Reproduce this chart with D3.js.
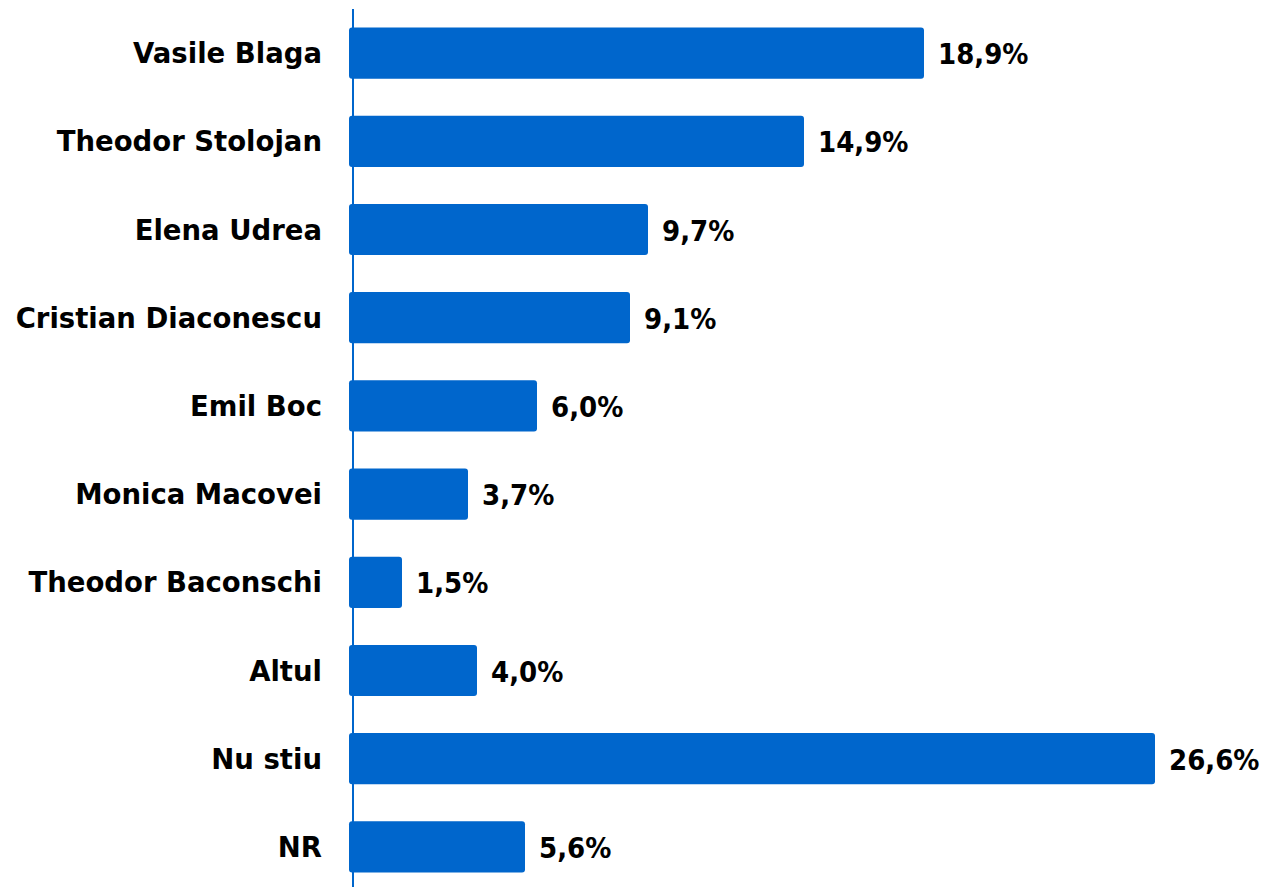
<!DOCTYPE html>
<html><head><meta charset="utf-8">
<script src="https://cdn.jsdelivr.net/npm/d3@7"></script>
<style>html,body{margin:0;padding:0;background:#fff;}</style>
</head><body>
<svg id="c" width="1262" height="887"></svg>
<script>
const categories = ["Vasile Blaga","Theodor Stolojan","Elena Udrea","Cristian Diaconescu","Emil Boc","Monica Macovei","Theodor Baconschi","Altul","Nu stiu","NR"];
const values = [18.9,14.9,9.7,9.1,6.0,3.7,1.5,4.0,26.6,5.6];
const valueLabels = ["18,9%","14,9%","9,7%","9,1%","6,0%","3,7%","1,5%","4,0%","26,6%","5,6%"];

const svg = d3.select("#c");
const blue = "#0066CC";
const x = d3.scaleLinear().domain([0, 26.6]).range([357, 1155]);
const y = d3.scaleBand().domain(categories).range([9, 9 + 88.2*10]).paddingInner(0.42).paddingOuter(0.21);
const barStart = 349;
const font = "'DejaVu Sans', sans-serif";

svg.selectAll("rect.bar").data(values).join("rect")
  .attr("class","bar")
  .attr("x", barStart)
  .attr("y", (d,i)=>y(categories[i]))
  .attr("width", d=>x(d)-barStart)
  .attr("height", y.bandwidth())
  .attr("rx",3).attr("fill",blue);

svg.append("line").attr("x1",353).attr("x2",353).attr("y1",9).attr("y2",887)
  .attr("stroke",blue).attr("stroke-width",2);

svg.selectAll("text.cat").data(categories).join("text")
  .attr("class","cat")
  .attr("x",322)
  .attr("y",d=>y(d)+y.bandwidth()/2+10)
  .attr("text-anchor","end")
  .attr("font-family",font).attr("font-weight","bold").attr("font-size",27.5)
  .attr("fill","#000").text(d=>d);

svg.selectAll("text.val").data(values).join("text")
  .attr("class","val")
  .attr("x",d=>x(d)+14)
  .attr("y",(d,i)=>y(categories[i])+y.bandwidth()/2+11)
  .attr("font-family","'DejaVu Sans Condensed', 'DejaVu Sans', sans-serif")
  .attr("font-stretch","condensed")
  .attr("font-weight","bold").attr("font-size",29)
  .attr("fill","#000").text((d,i)=>valueLabels[i]);
</script>
</body></html>
